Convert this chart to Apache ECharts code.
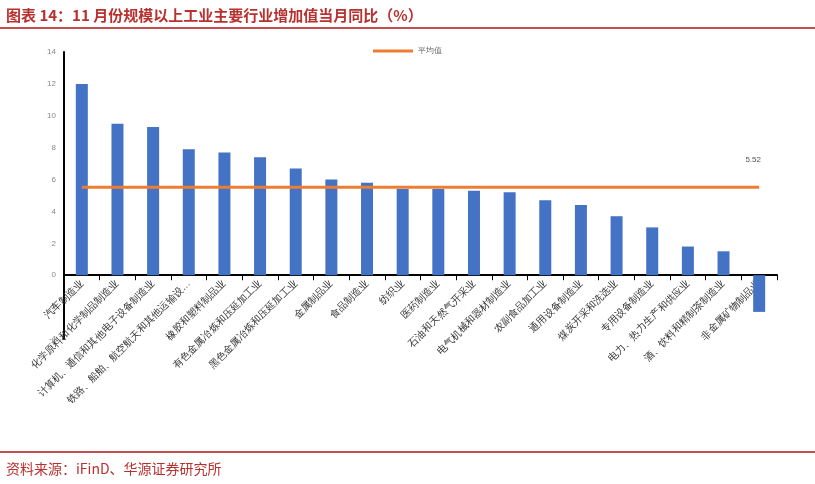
<!DOCTYPE html>
<html><head><meta charset="utf-8">
<script src="https://cdn.jsdelivr.net/npm/echarts@6/dist/echarts.min.js"></script>
<style>body{margin:0;background:#fff;font-family:"Noto Sans CJK SC";}
#t{position:absolute;left:6px;top:4px;font-size:15px;font-weight:bold;color:#b8312f;}
#l1{position:absolute;left:0;top:27px;width:815px;height:2px;background:#c0504d;}
#l2{position:absolute;left:0;top:451px;width:815px;height:2px;background:#c0504d;}
#s{position:absolute;left:6px;top:458px;font-size:14px;color:#b8312f;}
#c{position:absolute;left:0;top:0;width:815px;height:484px;}</style></head>
<body><div id="c"></div><div id="t">图表 14：11 月份规模以上工业主要行业增加值当月同比（%）</div><div id="l1"></div><div id="l2"></div><div id="s">资料来源：iFinD、华源证券研究所</div>
<script>
const categories=["汽车制造业","化学原料和化学制品制造业","计算机、通信和其他电子设备制造业","铁路、船舶、航空航天和其他运输设…","橡胶和塑料制品业","有色金属冶炼和压延加工业","黑色金属冶炼和压延加工业","金属制品业","食品制造业","纺织业","医药制造业","石油和天然气开采业","电气机械和器材制造业","农副食品加工业","通用设备制造业","煤炭开采和洗选业","专用设备制造业","电力、热力生产和供应业","酒、饮料和精制茶制造业","非金属矿物制品业"];
const values=[12.0,9.5,9.3,7.9,7.7,7.4,6.7,6.0,5.8,5.4,5.4,5.3,5.2,4.7,4.4,3.7,3.0,1.8,1.5,-2.3];
const avg=5.52;
const avgData=categories.map(()=>avg);
const ch=echarts.init(document.getElementById('c'));
ch.setOption({
 animation:false,
 legend:{top:42,left:'center',data:[{name:'平均值',icon:'rect'}],itemWidth:40,itemHeight:3,textStyle:{fontSize:8,color:'#666'}},
 grid:{left:64,right:38,top:52,bottom:145},
 xAxis:{type:'category',data:categories,axisLine:{onZero:true,lineStyle:{color:'#000',width:2}},axisTick:{show:true,lineStyle:{color:'#000'}},
   axisLabel:{rotate:45,fontSize:10,color:'#333',interval:0,margin:-57}},
 yAxis:{type:'value',min:-4,max:14,interval:2,splitLine:{show:false},axisLine:{show:true,lineStyle:{color:'#000',width:2}},axisTick:{show:false},axisLabel:{fontSize:8,color:'#888'}},
 series:[
  {name:'增加值',type:'bar',data:values,barWidth:12,itemStyle:{color:'#4472c4'}},
  {name:'平均值',type:'line',data:avgData,symbol:'none',lineStyle:{color:'#ed7d31',width:3},itemStyle:{color:'#ed7d31'},
   markPoint:{symbol:'circle',symbolSize:0,data:[{coord:[19,avg],value:avg}],label:{show:true,position:'top',offset:[-6,-18],fontSize:8,color:'#555',formatter:'5.52'}}}
 ]
});
</script></body></html>
